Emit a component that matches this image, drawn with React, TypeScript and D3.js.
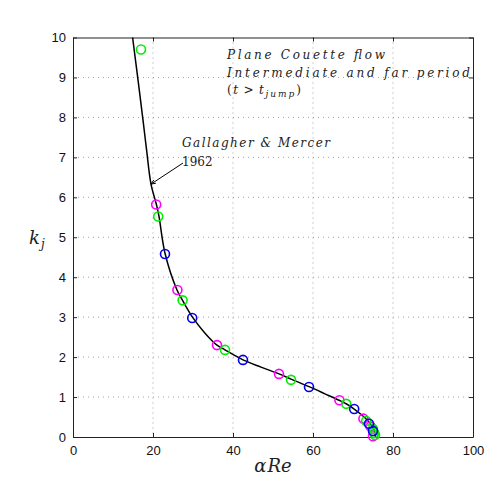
import React, { useEffect, useRef } from 'react';
import * as d3 from 'd3';

// markers: [alphaRe, k_j]
const greenPts: [number, number][] = [
  [17, 9.7], [21.3, 5.52], [27.4, 3.42], [38, 2.18], [54.5, 1.43],
  [68.3, 0.83], [73.3, 0.4], [75, 0.2], [75.3, 0.1], [75.5, 0.05],
];
const magentaPts: [number, number][] = [
  [20.8, 5.82], [26.1, 3.68], [36, 2.3], [51.5, 1.58], [66.6, 0.92],
  [72.6, 0.46], [74.4, 0.26], [75, 0.02],
];
const bluePts: [number, number][] = [
  [23, 4.58], [29.8, 2.98], [42.5, 1.93], [59, 1.25], [70.3, 0.7],
  [74, 0.33], [75, 0.15],
];

// Gallagher & Mercer 1962 curve
const curveX = [14.9, 16.3, 17.6, 18.4, 19.5, 20.9, 21.5, 23, 26, 27.5, 30, 33, 36, 38, 42.5, 47, 51.5, 54.5, 59, 63, 66.5, 68.5, 70.3, 72.2, 73.6, 74.6, 75.2, 75.5, 75.6];
const curveY = [10, 8.9, 7.85, 7.18, 6.33, 5.8, 5.52, 4.6, 3.68, 3.4, 2.98, 2.6, 2.3, 2.18, 1.93, 1.75, 1.58, 1.45, 1.26, 1.08, 0.92, 0.82, 0.7, 0.55, 0.42, 0.3, 0.18, 0.08, 0];

const xTicks = [0, 20, 40, 60, 80, 100];
const yTicks = [0, 1, 2, 3, 4, 5, 6, 7, 8, 9, 10];

const titleLines = ['Plane Couette flow', 'Intermediate and far period'];

const Chart = () => {
  const svgRef = useRef<SVGSVGElement>(null);

  useEffect(() => {
    const width = 491;
    const height = 491;
    const left = 73, right = 473, top = 37.5, bottom = 437;

    const svg = d3.select(svgRef.current).attr('width', width).attr('height', height);
    svg.selectAll('*').remove();

    const x = d3.scaleLinear().domain([0, 100]).range([left, right]);
    const y = d3.scaleLinear().domain([0, 10]).range([bottom, top]);

    svg.append('rect').attr('width', width).attr('height', height).attr('fill', '#fff');

    // dotted grid
    const grid = svg.append('g').attr('stroke', '#a0a0a0').attr('stroke-width', 1).attr('stroke-dasharray', '1 4');
    xTicks.slice(1, -1).forEach(t => {
      grid.append('line').attr('x1', x(t)).attr('x2', x(t)).attr('y1', top).attr('y2', bottom);
    });
    yTicks.slice(1, -1).forEach(t => {
      grid.append('line').attr('x1', left).attr('x2', right).attr('y1', y(t)).attr('y2', y(t));
    });

    // axes with inward ticks
    const xAxisB = d3.axisBottom(x).tickValues(xTicks).tickSizeInner(-4).tickSizeOuter(0).tickPadding(9);
    const xAxisT = d3.axisTop(x).tickValues(xTicks).tickSizeInner(-4).tickSizeOuter(0).tickFormat(() => '');
    const yAxisL = d3.axisLeft(y).tickValues(yTicks).tickSizeInner(-4).tickSizeOuter(0).tickPadding(7);
    const yAxisR = d3.axisRight(y).tickValues(yTicks).tickSizeInner(-4).tickSizeOuter(0).tickFormat(() => '');

    const styleAxis = (g: any) => {
      g.selectAll('path').attr('stroke', '#222').attr('stroke-width', 1);
      g.selectAll('line').attr('stroke', '#222');
      g.selectAll('text').attr('font-family', '"Liberation Sans", Arial, sans-serif').attr('font-size', 13).attr('fill', '#111');
    };
    svg.append('g').attr('transform', `translate(0,${bottom})`).call(xAxisB).call(styleAxis);
    svg.append('g').attr('transform', `translate(0,${top})`).call(xAxisT).call(styleAxis);
    svg.append('g').attr('transform', `translate(${left},0)`).call(yAxisL).call(styleAxis);
    svg.append('g').attr('transform', `translate(${right},0)`).call(yAxisR).call(styleAxis);

    const plot = svg.append('g');

    // curve
    const line = d3.line<number>()
      .x((d, i) => x(curveX[i]))
      .y((d, i) => y(curveY[i]))
      .curve(d3.curveCatmullRom);
    plot.append('path')
      .datum(curveY)
      .attr('d', line)
      .attr('fill', 'none')
      .attr('stroke', '#000')
      .attr('stroke-width', 1.5);

    // markers
    const drawSet = (pts: [number, number][], color: string) => {
      plot.selectAll(null)
        .data(pts)
        .enter().append('circle')
        .attr('cx', d => x(d[0]))
        .attr('cy', d => y(d[1]))
        .attr('r', 4.5)
        .attr('fill', 'none')
        .attr('stroke', color)
        .attr('stroke-width', 1.6);
    };
    drawSet(magentaPts, '#ff00ff');
    drawSet(greenPts, '#00ee00');
    drawSet(bluePts, '#0000ee');

    // annotation
    const ax = x(19.5), ay = y(6.33);
    const tx = 183, ty = 163;
    plot.append('line').attr('x1', tx).attr('y1', ty).attr('x2', ax).attr('y2', ay)
      .attr('stroke', '#000').attr('stroke-width', 1);
    const ang = Math.atan2(ay - ty, ax - tx);
    const ah = 5;
    plot.append('path')
      .attr('d', `M${ax},${ay} L${ax - ah * Math.cos(ang - 0.4)},${ay - ah * Math.sin(ang - 0.4)} M${ax},${ay} L${ax - ah * Math.cos(ang + 0.4)},${ay - ah * Math.sin(ang + 0.4)}`)
      .attr('stroke', '#000').attr('fill', 'none').attr('stroke-width', 1);

    const serif = '"DejaVu Serif", "Liberation Serif", serif';
    svg.append('text').attr('x', 182).attr('y', 147)
      .attr('font-family', serif).attr('font-style', 'italic').attr('font-size', 12)
      .attr('textLength', 148).attr('lengthAdjust', 'spacing').attr('fill', '#222')
      .text('Gallagher & Mercer');
    svg.append('text').attr('x', 182).attr('y', 166)
      .attr('font-family', serif).attr('font-size', 12).attr('fill', '#222')
      .text('1962');

    // title block
    const titleW = [158, 243];
    titleLines.forEach((s, i) => {
      svg.append('text').attr('x', 227).attr('y', 59 + i * 18)
        .attr('font-family', serif).attr('font-style', 'italic').attr('font-size', 12)
        .attr('textLength', titleW[i]).attr('lengthAdjust', 'spacing').attr('fill', '#222')
        .text(s);
    });
    const t3 = svg.append('text').attr('x', 227).attr('y', 94)
      .attr('font-family', serif).attr('font-size', 12).attr('fill', '#222').attr('letter-spacing', 1.5);
    t3.append('tspan').text('(');
    t3.append('tspan').attr('font-style', 'italic').text('t');
    t3.append('tspan').attr('dx', 4).text('>');
    t3.append('tspan').attr('dx', 4).attr('font-style', 'italic').text('t');
    t3.append('tspan').attr('font-style', 'italic').attr('font-size', 9).attr('dy', 3).attr('letter-spacing', 2).text('jump');
    t3.append('tspan').attr('dy', -3).text(')');

    // axis labels
    const xl = svg.append('text').attr('x', 273).attr('y', 472).attr('text-anchor', 'middle')
      .attr('font-family', serif).attr('font-style', 'italic').attr('font-size', 18).attr('fill', '#222');
    xl.append('tspan').text('α');
    xl.append('tspan').attr('dx', 1).text('Re');

    const yl = svg.append('text').attr('x', 29).attr('y', 244)
      .attr('font-family', serif).attr('font-style', 'italic').attr('font-size', 18).attr('fill', '#222');
    yl.append('tspan').text('k');
    yl.append('tspan').attr('font-size', 12).attr('dy', 4).attr('dx', 1).text('j');
  }, []);

  return <svg ref={svgRef} style={{ display: 'block' }}></svg>;
};

export default function App() {
  return (
    <div style={{ position: 'absolute', left: 0, top: 0 }}>
      <Chart />
    </div>
  );
}
